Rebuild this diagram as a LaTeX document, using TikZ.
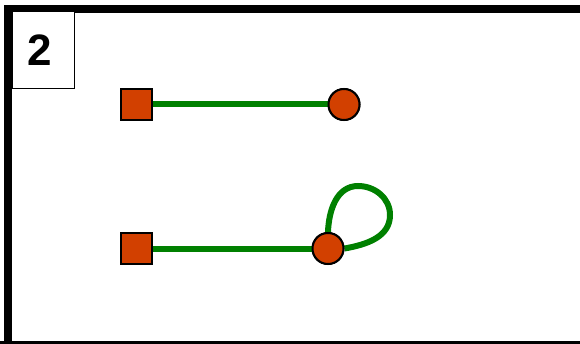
\documentclass[tikz,border=0pt]{standalone}
\usepackage{fontspec}
\setmainfont{Liberation Sans}
\definecolor{nodefill}{RGB}{210,64,0}
\definecolor{wiregreen}{RGB}{0,128,0}
\tikzset{
  sq/.style={draw=black, line width=2pt, fill=nodefill, minimum size=31pt, inner sep=0pt, rectangle},
  rd/.style={draw=black, line width=2pt, fill=nodefill, minimum size=31pt, inner sep=0pt, circle},
  wire/.style={draw=wiregreen, line width=6pt},
  frame/.style={draw=black, line width=8pt},
  tag/.style={draw=black, line width=1pt, fill=white},
}
\begin{document}
\begin{tikzpicture}[x=1pt,y=1pt]
\useasboundingbox (0,0) rectangle (580,343);
% frame
\draw[frame] (8,-10) -- (8,334) -- (600,334);
\draw[frame] (0,-2) -- (600,-2);
% label box
\draw[tag] (12,331) rectangle (74,254);
\node[font=\fontsize{44}{44}\selectfont\bfseries] (lbl) at (40,293) {2};
% nodes
\node[sq] (s1) at (136,238.5) {};
\node[rd] (c1) at (344,238.5) {};
\node[sq] (s2) at (136,94.5) {};
\node[rd] (c2) at (328,94.5) {};
\coordinate (ltop) at (358,157);
\coordinate (lright) at (390,128);
% wires
\draw[wire] (s1) -- (c1);
\draw[wire] (s2) -- (c2);
\draw[wire] (c2.north) to[out=88,in=180] (ltop) to[out=0,in=90] (lright) to[out=-90,in=10] (c2.east);
% redraw nodes on top
\node[sq] at (s1) {};
\node[rd] at (c1) {};
\node[sq] at (s2) {};
\node[rd] at (c2) {};
\end{tikzpicture}
\end{document}
